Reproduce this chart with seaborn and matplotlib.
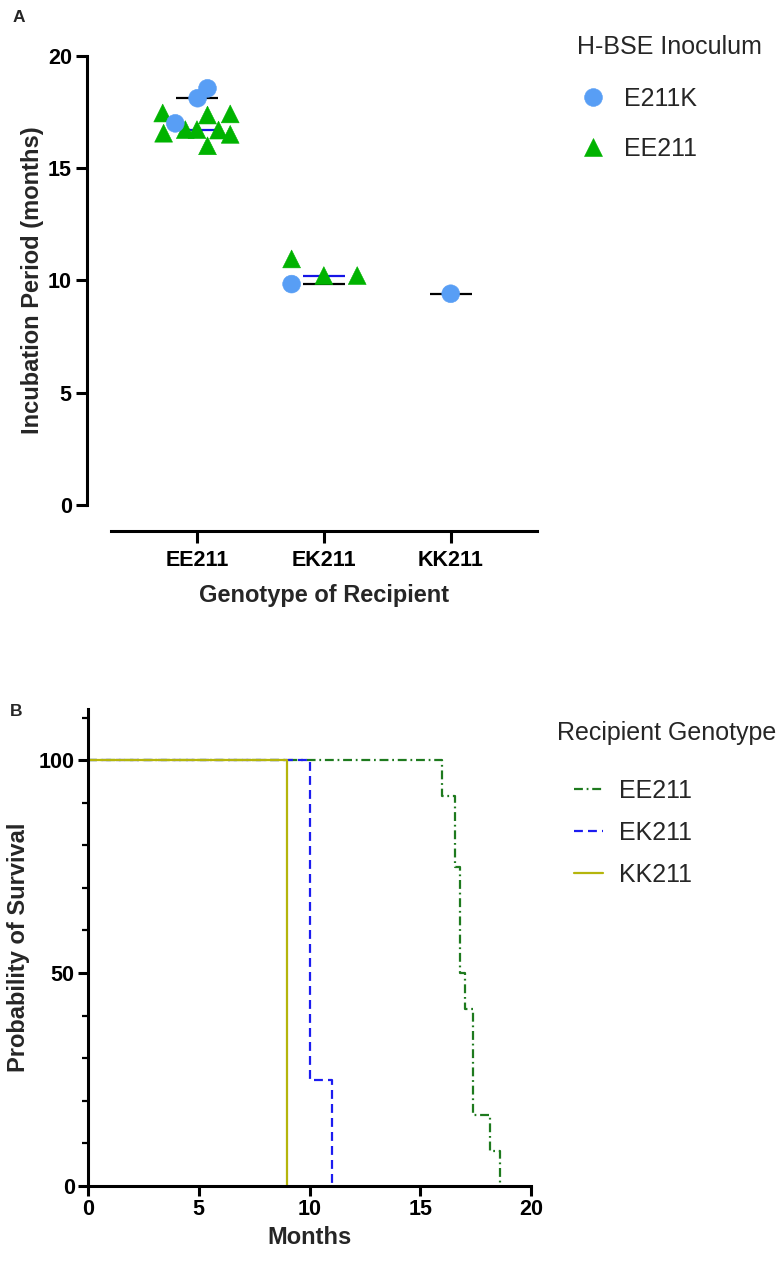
import numpy as np
import pandas as pd
import matplotlib
matplotlib.use("Agg")
import matplotlib.pyplot as plt
from matplotlib.ticker import MultipleLocator
import seaborn as sns

# ---------------- data ----------------
recipient_genotypes = ["EE211", "EK211", "KK211"]
inoculum_order = ["E211K", "EE211"]

# Panel A: incubation period (months) of each animal, by recipient genotype and inoculum
ee_recip_e211k = [18.56, 18.12, 17.0]
ee_recip_ee211 = [17.46, 16.56, 16.72, 16.72, 17.37, 16.0, 16.7, 17.42, 16.51]
ek_recip_e211k = [9.84]
ek_recip_ee211 = [10.96, 10.22, 10.22]
kk_recip_e211k = [9.41]

# horizontal scatter of the dots inside each column (fraction of column spacing)
ee_spread_e211k = [0.083, 0.005, -0.171]
ee_spread_ee211 = [-0.27, -0.263, -0.092, 0.0, 0.083, 0.083, 0.17, 0.262, 0.262]
ek_spread_e211k = [-0.254]
ek_spread_ee211 = [-0.254, 0.0, 0.263]
kk_spread_e211k = [0.0]

yticks_a = [0, 5, 10, 15, 20]

# Panel B: survival times (months) per recipient genotype
surv_ee211 = [16.0, 16.55, 16.55, 16.8, 16.8, 16.8, 17.0, 17.4, 17.4, 17.4, 18.15, 18.6]
surv_ek211 = [10.0, 10.0, 10.0, 11.0]
surv_kk211 = [9.0]

yticks_b = [0, 50, 100]
xticks_b = [0, 5, 10, 15, 20]

# ---------------- styling ----------------
sns.set_theme(style="white")
plt.rcParams["font.family"] = ["Liberation Sans", "DejaVu Sans"]
plt.rcParams["axes.linewidth"] = 2.2

col_circle = "#589EF5"
col_tri = "#00B300"
col_med_e211k = "#000000"
col_med_ee211 = "#1515E6"
line_cols = {"EE211": "#1E7A1E", "EK211": "#1C1CF0", "KK211": "#B5B50C"}

fig = plt.figure(figsize=(7.8, 12.63), dpi=100)
W, H = 780.0, 1263.0


def ax_rect(x0, y_top, x1, y_bot):
    return [x0 / W, 1 - y_bot / H, (x1 - x0) / W, (y_bot - y_top) / H]


# ================= Panel A =================
axA = fig.add_axes(ax_rect(110.7, 56, 537, 505))

rows = []
groups = [
    ("EE211", "EE211", ee_recip_ee211, ee_spread_ee211),
    ("EK211", "EE211", ek_recip_ee211, ek_spread_ee211),
    ("EE211", "E211K", ee_recip_e211k, ee_spread_e211k),
    ("EK211", "E211K", ek_recip_e211k, ek_spread_e211k),
    ("KK211", "E211K", kk_recip_e211k, kk_spread_e211k),
]
for recip, inoc, vals, spread in groups:
    for v, s in zip(vals, spread):
        rows.append({"recipient": recip, "inoculum": inoc, "months": v,
                     "xpos": recipient_genotypes.index(recip) + s})
dfA = pd.DataFrame(rows)

# median lines (drawn beneath the dots)
half = 0.165
for (recip, inoc), sub in dfA.groupby(["recipient", "inoculum"]):
    i = recipient_genotypes.index(recip)
    med = np.median(sub["months"])
    axA.hlines(med, i - half, i + half,
               color=col_med_e211k if inoc == "E211K" else col_med_ee211,
               lw=1.6, zorder=2)

sns.scatterplot(data=dfA, x="xpos", y="months", hue="inoculum", style="inoculum",
                hue_order=inoculum_order, style_order=inoculum_order,
                palette={"E211K": col_circle, "EE211": col_tri},
                markers={"E211K": "o", "EE211": "^"},
                s=165, edgecolor="face", linewidth=0.4, ax=axA, zorder=3)

handlesA, labelsA = axA.get_legend_handles_labels()
axA.get_legend().remove()

# spines first (set_position resets the ticks)
for sp in ["top", "right"]:
    axA.spines[sp].set_visible(False)
axA.spines["left"].set_position(("outward", 17.3))
axA.spines["bottom"].set_position(("outward", 18.7))
for sp in ["left", "bottom"]:
    axA.spines[sp].set_linewidth(2.2)
    axA.spines[sp].set_color("black")

axA.set_xlim(-0.68, 2.68)
axA.set_ylim(0, 20)
axA.set_xticks(range(len(recipient_genotypes)))
axA.set_xticklabels(recipient_genotypes, fontweight="bold", fontsize=15.5)
axA.set_yticks(yticks_a)
axA.set_yticklabels([str(t) for t in yticks_a], fontweight="bold", fontsize=15.5)
axA.tick_params(axis="y", direction="out", length=8, width=2.2, pad=2.7, colors="black", left=True)
axA.tick_params(axis="x", direction="out", length=8.6, width=2.2, pad=5, colors="black", bottom=True)
axA.set_xlabel("Genotype of Recipient", fontsize=17, fontweight="bold")
axA.set_ylabel("Incubation Period (months)", fontsize=17, fontweight="bold")
axA.xaxis.set_label_coords(0.5, -(584 - 505) / 449.0)
axA.xaxis.label.set_va("top")
axA.yaxis.set_label_coords(-(110.7 - 44) / 426.3, 0.5)

order = [labelsA.index(l) for l in inoculum_order]
fig.text(577 / W, 1 - 47 / H, "H-BSE Inoculum", fontsize=18, ha="left", va="center")
fig.legend([handlesA[i] for i in order], [labelsA[i] for i in order],
           loc="upper left", bbox_to_anchor=(577 / W, 1 - 86.5 / H),
           bbox_transform=fig.transFigure, frameon=False, fontsize=18,
           handlelength=1.28, handletextpad=0.6, labelspacing=1.04,
           borderpad=0, borderaxespad=0)

fig.text(13 / W, 1 - 17 / H, "A", fontsize=12.5, fontweight="bold", ha="left", va="center")

# ================= Panel B =================
axB = fig.add_axes(ax_rect(88, 709, 531, 1186))


def km_steps(times):
    t = np.sort(np.asarray(times, dtype=float))
    n = len(t)
    xs, ys = [0.0], [100.0]
    for u in np.unique(t):
        xs.append(u)
        ys.append(100.0 * np.sum(t > u) / n)
    return xs, ys


km_rows = []
for name, times in [("EE211", surv_ee211), ("EK211", surv_ek211), ("KK211", surv_kk211)]:
    xs, ys = km_steps(times)
    for x, y in zip(xs, ys):
        km_rows.append({"genotype": name, "months": x, "survival": y})
dfB = pd.DataFrame(km_rows)

sns.lineplot(data=dfB, x="months", y="survival", hue="genotype", style="genotype",
             hue_order=recipient_genotypes, style_order=recipient_genotypes,
             palette=line_cols,
             dashes={"EE211": (4, 1.7, 0.8, 1.7), "EK211": (4, 2.3), "KK211": ""},
             estimator=None, sort=False, drawstyle="steps-post", lw=1.6, ax=axB)
handlesB, labelsB = axB.get_legend_handles_labels()
axB.get_legend().remove()

for sp in ["top", "right"]:
    axB.spines[sp].set_visible(False)
for sp in ["left", "bottom"]:
    axB.spines[sp].set_linewidth(2.2)
    axB.spines[sp].set_color("black")

axB.set_xlim(0, 20)
axB.set_ylim(0, 112)
axB.set_xticks(xticks_b)
axB.set_xticklabels([str(t) for t in xticks_b], fontweight="bold", fontsize=15.5)
axB.set_yticks(yticks_b)
axB.set_yticklabels([str(t) for t in yticks_b], fontweight="bold", fontsize=15.5)
axB.yaxis.set_minor_locator(MultipleLocator(10))
axB.tick_params(axis="y", which="major", direction="out", length=7, width=2.2, pad=2.5, colors="black", left=True)
axB.tick_params(axis="y", which="minor", direction="out", length=4, width=1.6, colors="black", left=True)
axB.tick_params(axis="x", direction="out", length=7, width=2.2, pad=2.5, colors="black", bottom=True)
axB.set_xlabel("Months", fontsize=17, fontweight="bold")
axB.set_ylabel("Probability of Survival", fontsize=17, fontweight="bold")
axB.xaxis.set_label_coords(0.5, -(1226 - 1186) / 477.0)
axB.xaxis.label.set_va("top")
axB.yaxis.set_label_coords(-(88 - 30) / 443.0, 0.5)

fig.text(557 / W, 1 - 733 / H, "Recipient Genotype", fontsize=18, ha="left", va="center")
fig.legend(handlesB, labelsB, loc="upper left", bbox_to_anchor=(574 / W, 1 - 778.5 / H),
           bbox_transform=fig.transFigure, frameon=False, fontsize=18,
           handlelength=1.16, handletextpad=0.64, labelspacing=0.72,
           borderpad=0, borderaxespad=0)

fig.text(10 / W, 1 - 712 / H, "B", fontsize=12.5, fontweight="bold", ha="left", va="center")

fig.savefig("out.png", dpi=100)
